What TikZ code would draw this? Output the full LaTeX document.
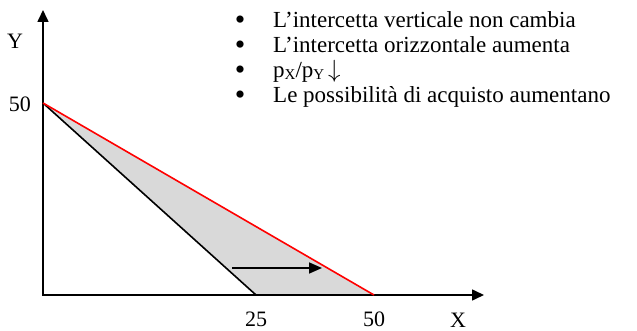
\documentclass[tikz,border=0pt]{standalone}
\usepackage{fontspec}
\setmainfont{Liberation Serif}
\usetikzlibrary{positioning,arrows.meta}
\tikzset{
    % Axes
    axis/.style={
        line width=1.6pt,
        black,
        -{Triangle[length=12pt,width=11pt]}
    },
    % Budget lines
    oldline/.style={
        line width=1.6pt,
        black
    },
    newline/.style={
        line width=1.6pt,
        red
    },
    % Axis labels
    axislabel/.style={
        font=\fontsize{22}{24}\selectfont,
        inner sep=0pt
    },
    % Bullet list text
    bullettext/.style={
        font=\fontsize{23}{25}\selectfont,
        anchor=base west,
        inner sep=0pt,
        text height=16pt,
        text depth=5pt
    },
    % Bullet marks
    bulletmark/.style={
        font=\fontsize{30}{30}\selectfont,
        anchor=base,
        inner sep=0pt,
        text height=12pt,
        text depth=0pt
    },
    % Shift arrow
    shiftarrow/.style={
        line width=1.6pt,
        -{Triangle[length=13pt,width=11pt]}
    }
}
\newcommand{\smallidx}[1]{{\fontsize{15}{15}\selectfont\raisebox{-1.5pt}{#1}}}

\begin{document}
\begin{tikzpicture}[x=1pt,y=-1pt]
\useasboundingbox (0,0) rectangle (637,331);

% === AXES ===
\coordinate (origin) at (43,295);
\coordinate (ytop) at (43,10);
\coordinate (xend) at (484,295);
\coordinate (yint) at (43,103);
\coordinate (xold) at (256,295);
\coordinate (xnew) at (374,295);

% === SHADED AREA ===
\fill[gray!30] (yint) -- (xold) -- (xnew) -- cycle;

\draw[axis] (origin) -- (ytop);
\draw[axis] ([xshift=-0.8pt]origin) -- (xend);

% === BUDGET LINES ===
\draw[oldline] (yint) -- (xold);
\draw[newline] (yint) -- (xnew);

% === SHIFT ARROW ===
\coordinate (shiftstart) at (232,268);
\coordinate (shiftend) at (322,268);
\draw[shiftarrow] (shiftstart) -- (shiftend);

% === LABELS ===
\node[axislabel] (ylabel) at (15,41) {Y};
\node[axislabel] (xlabel) at (458,320) {X};
\node[axislabel] (yfifty) at (20,104) {50};
\node[axislabel] (xtwentyfive) at (256,319) {25};
\node[axislabel] (xfifty) at (374,319) {50};

% === BULLET LIST ===
\node[bullettext] (item1) at (273,28) {L’intercetta verticale non cambia};
\node[bullettext] (item2) at (273,53) {L’intercetta orizzontale aumenta};
\node[bullettext] (item3) at (273,78) {p\smallidx{X}/p\smallidx{Y}\,$\downarrow$};
\node[bullettext] (item4) at (273,103) {Le possibilità di acquisto aumentano};
\foreach \i in {1,...,4}
    \node[bulletmark] (bullet\i) at (240,5+25*\i) {\textbullet};

\end{tikzpicture}
\end{document}
